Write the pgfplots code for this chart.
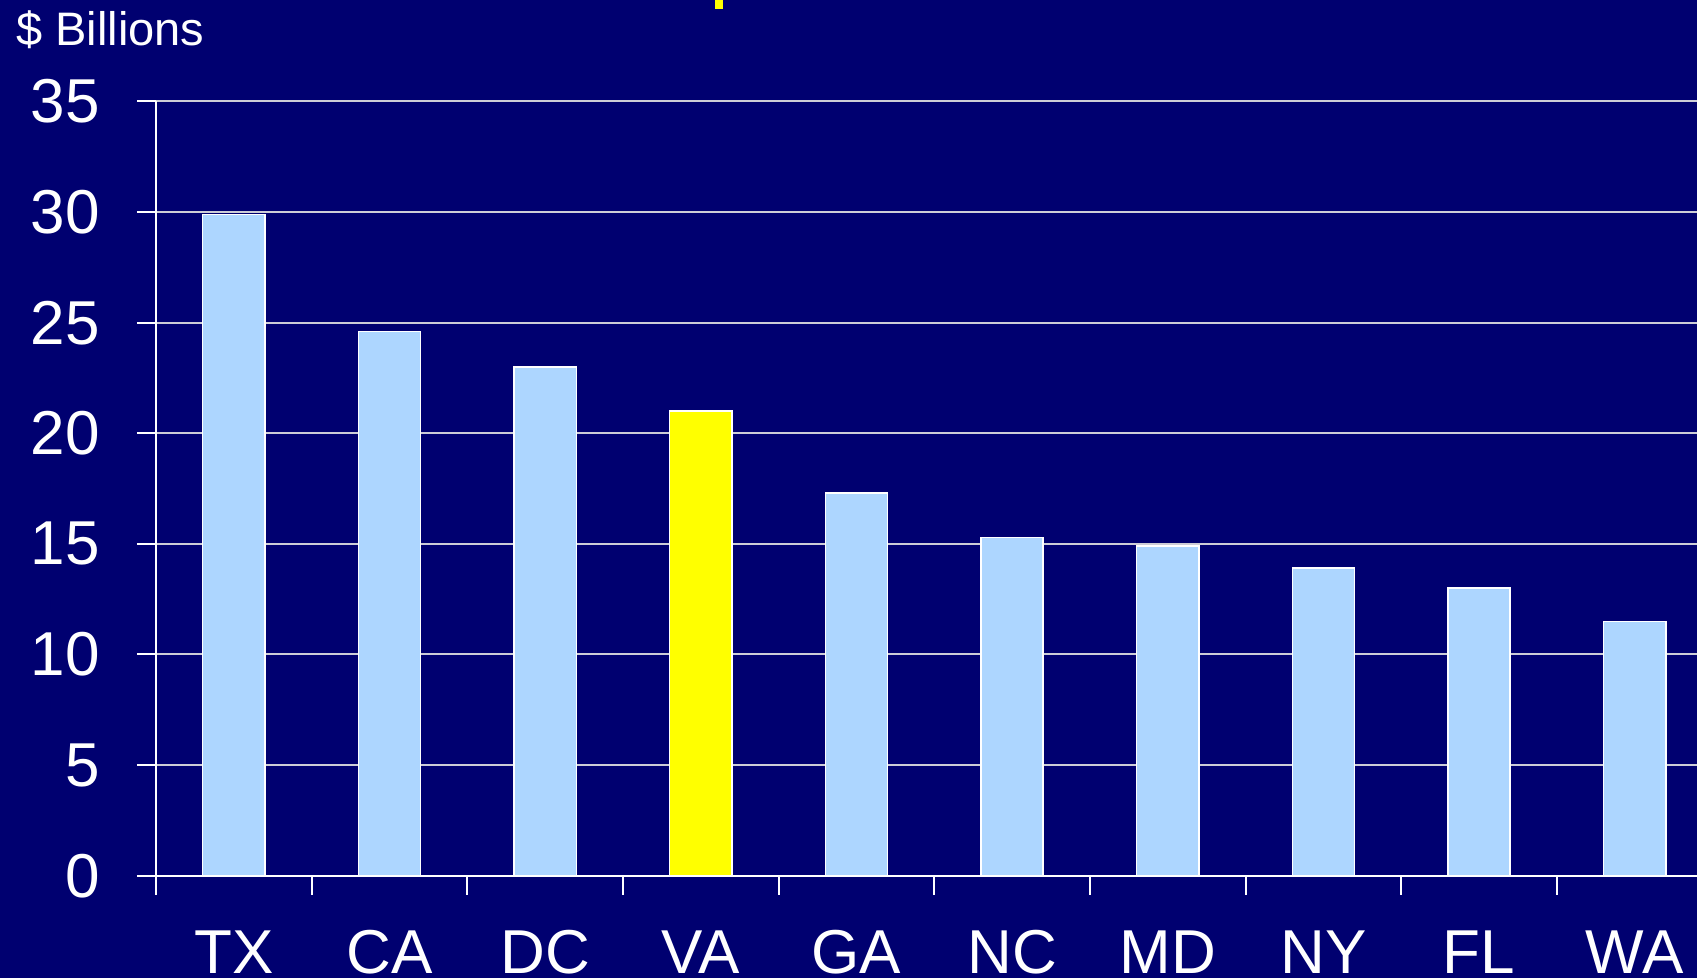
\documentclass[border=0pt]{standalone}
\usepackage{pgfplots}
\pgfplotsset{compat=1.18}
\usepackage{fontspec}
\setmainfont{Liberation Sans}
\definecolor{bgnavy}{RGB}{0,0,112}
\definecolor{barblue}{RGB}{173,214,255}
\definecolor{gridgray}{RGB}{205,205,215}
\definecolor{vayellow}{RGB}{255,255,0}

\begin{document}
\begin{tikzpicture}
% page frame and background
\path[use as bounding box, fill=bgnavy] (-78pt,-51.1pt) rectangle (770.5pt,437.85pt);
\begin{axis}[
    at={(0,0)}, anchor=south west,
    width=770.5pt, height=387.1pt, scale only axis,
    xmin=0, xmax=9.9, ymin=0, ymax=35,
    axis x line*=bottom, axis y line*=left,
    axis line style={white, line width=1pt, -},
    ytick={0,5,...,35},
    xtick={0,1,...,9},
    xticklabels={TX,CA,DC,VA,GA,NC,MD,NY,FL,WA},
    tick align=outside,
    major tick length=9.5pt,
    tick style={white, line width=1pt},
    ymajorgrids,
    grid style={gridgray, line width=1pt},
    /pgf/number format/assume math mode=true,
    ticklabel style={text=white, font=\fontsize{31}{31}\selectfont, inner sep=0pt},
    xticklabel style={anchor=base, xshift=38.9pt, yshift=-39.2pt},
    yticklabel style={anchor=east, xshift=-18.5pt},
    clip=false,
]
\addplot[ybar, bar width=0.4, bar shift=0pt, fill=barblue, draw=white, line width=0.75pt]
    coordinates {(0.5,29.9) (1.5,24.6) (2.5,23.0) (4.5,17.3) (5.5,15.3)
                 (6.5,14.9) (7.5,13.9) (8.5,13.0) (9.5,11.5)};
\addplot[ybar, bar width=0.4, bar shift=0pt, fill=vayellow, draw=white, line width=0.75pt]
    coordinates {(3.5,21.0)};
\end{axis}
\node[anchor=base west, text=white, font=\fontsize{23.5}{23.5}\selectfont, inner sep=0pt]
    at (-70pt,415.3pt) {\$ Billions};
% cut-off piece of the title at the top edge
\fill[vayellow] (279.5pt,433.4pt) rectangle (283.5pt,437.85pt);
\end{tikzpicture}
\end{document}
